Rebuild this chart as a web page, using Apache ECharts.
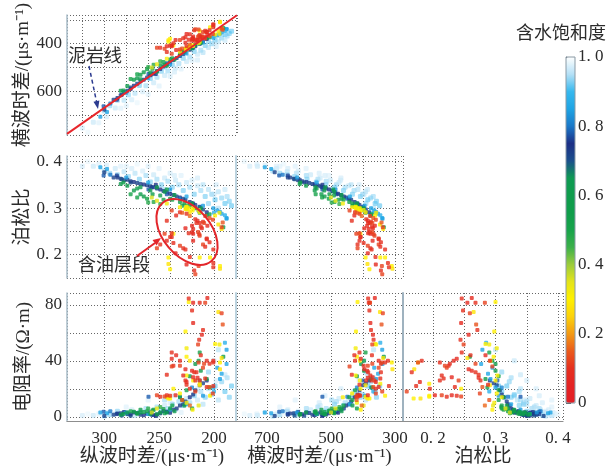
<!DOCTYPE html>
<html>
<head>
<meta charset="utf-8">
<script src="https://cdn.jsdelivr.net/npm/echarts@6/dist/echarts.min.js"></script>
<style>
html, body { margin: 0; padding: 0; background: #fff; }
#chart { width: 609px; height: 467px; }
</style>
</head>
<body>
<div id="chart"></div>
<script>
// Well-log samples: compressional slowness DTC (μs/m), shear slowness DTS (μs/m),
// Poisson's ratio, resistivity RT (Ω·m) and water saturation Sw.
// Grouped roughly by saturation: water-bearing (blue), transition (green), low Sw (yellow), oil (red).
const dtc = [
  291.5,285,282,279,273,267,261,255,249,243,237,231,226,222,217,213,206.6,300.6,297.5,303.6,294.5,288.5,259.7,256.6,253,243,231,220,200.6,194.5,193,188.5,188.5,213,284,276,300,190,197,288,276,270,264,258,252,246,240,234,228,219,210,280,260,240,225,210,200,
  282.5,279,276,273,270,267,267,261,258,255,249,249,240,231,229,225,227,222,217,214,213,206.6,204,191.5,212,245,236,220,252,243,285,264,256,246,238,270,260,
  223,196,226,225,225,222,225,194.5,194.5,213,241.5,241.5,240,231,225,219.5,213,203.6,199,195,193,256.7,252,243,219,237,214,
  223,219,213,208,206,220,193,219,192,210,211,213.5,214.5,238.5,238.5,237,231,226,228,226,220,216,210,204,206.6,200.6,213,208,219,206.6,252,249,243,240,245,217,204,201,222,225,218,214,200.6,235,212,209,215,225,238.5,231,234.5,243,217,200.6,229,222
];
const dts = [
  635,616,603,598,577,558,542,524,506,487,469,452,437,426,411,400,381,662,687,707,651,635,527,528,527,482,449,419,375,359,353,339,340,400,614,584,676,346,365,628,590,568,551,533,515,496,478,460,443,417,391,606,545,486,441,395,368,
  596,578,548,551,528,530,549,507,521,489,474,491,467,443,433,425,433,419,406,397,392,376,373,335,397,490,467,419,518,493,598,520,505,477,461,545,498,
  417,347,422,423,419,410,423,310,308,346,392,386,380,434,419,407,392,331,362,359,337,500,486,463,410,408,398,
  384,382,379,378,363,380,338,377,342,375,369,367,371,411,407,398,385,396,377,373,387,384,351,344,351,331,364,346,370,351,417,417,411,409,421,390,368,360,361,360,344,341,322,385,372,371,385,411,442,425,427,435,340,319,420,404
];
const pr = [
  0.366,0.363,0.36,0.361,0.356,0.352,0.349,0.345,0.34,0.334,0.328,0.323,0.318,0.313,0.307,0.302,0.291,0.37,0.384,0.388,0.372,0.37,0.34,0.345,0.35,0.33,0.32,0.31,0.30,0.292,0.288,0.277,0.279,0.303,0.362,0.355,0.377,0.285,0.295,0.366,0.358,0.354,0.351,0.347,0.342,0.337,0.331,0.325,0.32,0.31,0.297,0.366,0.355,0.34,0.325,0.305,0.29,
  0.355,0.348,0.33,0.338,0.323,0.33,0.345,0.32,0.338,0.313,0.309,0.327,0.32,0.313,0.305,0.305,0.31,0.305,0.30,0.295,0.29,0.284,0.287,0.259,0.30,0.335,0.328,0.31,0.345,0.34,0.352,0.325,0.33,0.318,0.318,0.342,0.312,
  0.30,0.265,0.298,0.302,0.297,0.292,0.303,0.176,0.17,0.194,0.194,0.18,0.169,0.302,0.298,0.295,0.291,0.194,0.284,0.29,0.255,0.323,0.316,0.31,0.30,0.245,0.296,
  0.246,0.255,0.268,0.283,0.262,0.248,0.259,0.245,0.269,0.271,0.257,0.244,0.249,0.246,0.238,0.225,0.219,0.257,0.214,0.211,0.262,0.268,0.222,0.227,0.233,0.211,0.241,0.217,0.23,0.235,0.214,0.222,0.23,0.238,0.245,0.276,0.279,0.275,0.195,0.179,0.166,0.176,0.182,0.203,0.26,0.268,0.273,0.288,0.295,0.291,0.284,0.273,0.158,0.173,0.29,0.283
];
const rt = [
  1.4,2.6,3.5,2,3,1.5,2.2,1.2,2.5,3.7,5,8,11,14,19,22.5,26,3.7,2.6,3,4,2,14.3,1.4,0.6,3.7,14.3,21,21,27,30.7,37.7,48,26,1,0.8,0.5,53,35,2.4,1.8,2.8,1.1,3.2,1.7,4.2,2.9,6,9,16,24,3,2,5,9,15,18,
  2,3,4,3.7,2.6,5,3,4,2,5,7,3,6,14,12,19,8,29,37.7,40,46,27,21,43,33,2.5,4,6,1.8,3,1.5,3.5,4.5,5.5,8,2.2,6,
  82,75,61,49,43,40,29.5,38.8,34,23.7,14.3,13,13,16.6,10,5,22.5,15,52,51.7,42,3,6,14,26,20,8,
  84.5,81.6,81.6,81.6,85,76,74,67,66,62,58.7,55,51.7,46,41.5,36.5,36.5,34,29.5,26,33,31.8,35,38,40,38.8,26,27.4,28.3,21.3,15.4,14.3,15.4,15,14.5,26,21.3,16.6,20,24.8,31.8,38.8,40,15.4,44,38,28,23,36,40,44,30,18,22,12,8
];
const sw = [
  0.72,0.72,0.73,0.72,0.74,0.72,0.73,0.72,0.74,0.73,0.72,0.73,0.72,0.74,0.73,0.72,0.74,0.78,0.85,0.85,0.8,0.76,0.78,0.76,0.74,0.78,0.8,0.82,0.85,0.85,0.86,0.86,0.85,0.78,0.7,0.71,0.72,0.88,0.86,0.73,0.73,0.72,0.74,0.72,0.73,0.72,0.74,0.73,0.72,0.73,0.72,0.84,0.86,0.84,0.86,0.84,0.88,
  0.55,0.6,0.5,0.55,0.5,0.58,0.62,0.52,0.6,0.48,0.46,0.56,0.55,0.55,0.5,0.52,0.58,0.55,0.6,0.55,0.5,0.55,0.6,0.55,0.58,0.6,0.62,0.56,0.62,0.6,0.6,0.55,0.58,0.52,0.5,0.62,0.48,
  0.3,0.28,0.3,0.32,0.3,0.28,0.3,0.3,0.28,0.3,0.3,0.28,0.3,0.3,0.32,0.3,0.28,0.3,0.3,0.32,0.28,0.36,0.34,0.32,0.3,0.3,0.34,
  0.1,0.08,0.1,0.12,0.08,0.1,0.12,0.08,0.14,0.1,0.08,0.1,0.12,0.1,0.08,0.1,0.12,0.08,0.1,0.1,0.08,0.1,0.12,0.1,0.08,0.1,0.12,0.1,0.08,0.1,0.12,0.1,0.08,0.1,0.12,0.1,0.14,0.12,0.1,0.08,0.1,0.12,0.1,0.08,0.1,0.12,0.08,0.1,0.12,0.1,0.08,0.1,0.12,0.1,0.14,0.16
];

// Near-fully water-saturated background samples (drawn faint, underneath).
const hazeDtc = [310,305,300,298,295,290,288,285,282,278,275,272,268,265,262,258,255,252,248,245,242,238,235,232,228,225,222,218,215,212,208,205,202,199,196,193,190,188,186,184,205,200,196,230,250,270,220,240,210,260,320,315,280,236,215,198,190,245];
const hazeDts = [730,732,682,706,660,670,637,671,637,614,635,608,575,602,577,546,564,541,516,534,515,489,502,483,461,475,456,433,445,428,408,416,401,385,392,376,362,368,358,348,391,397,367,506,578,648,470,537,437,612,754,771,660,519,469,412,386,498];
const hazePr = [0.39,0.395,0.38,0.392,0.375,0.385,0.372,0.39,0.378,0.368,0.385,0.375,0.362,0.38,0.37,0.356,0.372,0.362,0.35,0.365,0.358,0.345,0.36,0.35,0.338,0.355,0.345,0.33,0.348,0.338,0.325,0.34,0.33,0.318,0.335,0.322,0.31,0.325,0.315,0.305,0.31,0.33,0.30,0.37,0.385,0.395,0.36,0.375,0.35,0.39,0.39,0.40,0.39,0.37,0.365,0.35,0.34,0.34];
const hazeRt = [1,2,0.5,3,1.5,2,4,1,3,2,5,1,3,4,6,2,5,7,4,8,6,9,5,11,8,13,10,15,12,18,14,20,16,22,12,25,18,28,14,22,32,40,48,3,1,2,6,10,9,12,1,2,7,15,20,26,30,12];
const hazeSw = [0.95,0.97,0.93,0.96,0.92,0.95,0.92,0.97,0.94,0.92,0.96,0.94,0.91,0.96,0.93,0.91,0.95,0.93,0.91,0.95,0.93,0.91,0.95,0.93,0.91,0.95,0.93,0.91,0.95,0.93,0.91,0.94,0.92,0.9,0.94,0.92,0.9,0.93,0.91,0.9,0.92,0.95,0.94,0.97,0.97,0.98,0.96,0.96,0.94,0.97,0.96,0.98,0.97,0.96,0.96,0.96,0.95,0.93];

// Mudstone trend line in the DTC–DTS crossplot (two end points).
const mudDtc = [334, 179];
const mudDts = [778, 281];

// Colour ramp for water saturation, 0 → 1 in steps of 0.05.
const swColors = ['#e31e24','#e42324','#e5301f','#ea5a1c','#f39a14','#fcd20c','#fff000','#e4e41a','#9ccc3c','#3cb04a','#17a34a','#0f9d4a','#0f9c4c','#0e9a52','#1b4f8c','#1c2f86','#1a78c8','#1ea4e4','#36b8ee','#b4e0f6','#ffffff'];

const dims = ['dtc', 'dts', 'pr', 'rt', 'sw'];
const coreRows = dtc.map((v, i) => [v, dts[i], pr[i], rt[i], sw[i]]);
const hazeRows = hazeDtc.map((v, i) => [v, hazeDts[i], hazePr[i], hazeRt[i], hazeSw[i]]);

const NUM_FONT = '"Liberation Serif","DejaVu Serif",serif';
const TXT_FONT = '"Liberation Serif","Noto Sans CJK SC",serif';
const INK = '#2b2b2b';
const GRIDLINE = { show: true, lineStyle: { color: '#666', type: [1, 2], width: 1 } };
const near = (a, b) => Math.abs(a - b) < 1e-6;
const pick = (list, fmt) => v => (list.some(t => near(t, v)) ? fmt(v) : '');
const dec = v => v.toFixed(1).replace('.', '. ');

function axis(gridIndex, min, max, step, extra) {
  return Object.assign({
    type: 'value', gridIndex, min, max, minInterval: step, maxInterval: step,
    axisLine: { show: false, onZero: false },
    axisTick: { show: false },
    axisLabel: { show: false },
    splitLine: GRIDLINE
  }, extra || {});
}
const leftLine = { show: true, onZero: false, lineStyle: { color: '#a9bcc9', width: 1.5 } };
const baseLine = { show: true, onZero: false, lineStyle: { color: '#8d8d8d', width: 1.2 } };
const lbl = (formatter, margin) => ({ show: true, formatter, margin, fontFamily: NUM_FONT, fontSize: 17, color: INK });
const nameStyle = { fontFamily: TXT_FONT, fontSize: 19, color: INK };

const grids = [
  { left: 67,  top: 15,  width: 170, height: 120 },
  { left: 67,  top: 156, width: 170, height: 122 },
  { left: 236, top: 156, width: 167, height: 122 },
  { left: 67,  top: 293, width: 170, height: 128 },
  { left: 236, top: 293, width: 167, height: 128 },
  { left: 403, top: 293, width: 160, height: 128 },
  { left: 566, top: 57,  width: 9,   height: 346 }
].map(g => Object.assign({ outerBoundsMode: 'none', containLabel: false }, g));

const xAxis = [
  axis(0, 179, 334, 20, { inverse: true }),
  axis(1, 179, 334, 20, { inverse: true }),
  axis(2, 275, 797, 100, { inverse: true }),
  axis(3, 179, 334, 50, {
    inverse: true, axisLine: baseLine,
    axisLabel: lbl(pick([200, 250, 300], String), 9),
    name: '纵波时差/(μs·m⁻¹)', nameLocation: 'middle', nameGap: 26, nameTextStyle: nameStyle
  }),
  axis(4, 275, 797, 100, {
    inverse: true, axisLine: baseLine,
    axisLabel: lbl(pick([300, 500, 700], String), 9),
    name: '横波时差/(μs·m⁻¹)', nameLocation: 'middle', nameGap: 26, nameTextStyle: nameStyle
  }),
  axis(5, 0.152, 0.408, 0.05, {
    axisLine: baseLine,
    axisLabel: lbl(pick([0.2, 0.3, 0.4], dec), 9),
    name: '泊松比', nameLocation: 'middle', nameGap: 26, nameTextStyle: nameStyle
  }),
  { type: 'value', gridIndex: 6, show: false, min: 0, max: 1 }
];

const yAxis = [
  axis(0, 280, 783, 100, {
    inverse: true, axisLine: leftLine,
    axisLabel: lbl(pick([400, 600], String), 5),
    name: '横波时差/(μs·m⁻¹)', nameLocation: 'middle', nameRotate: 90, nameGap: 33, nameTextStyle: nameStyle
  }),
  axis(1, 0.15, 0.412, 0.05, {
    axisLine: leftLine,
    axisLabel: lbl(pick([0.2, 0.3, 0.4], dec), 5),
    name: '泊松比', nameLocation: 'middle', nameRotate: 90, nameGap: 33, nameTextStyle: nameStyle
  }),
  axis(2, 0.15, 0.412, 0.05, { axisLine: { show: true, onZero: false, lineStyle: { color: '#bcd3df', width: 2 } } }),
  axis(3, -3, 88.5, 20, {
    axisLine: leftLine,
    axisLabel: lbl(pick([0, 40, 80], String), 5),
    name: '电阻率/(Ω·m)', nameLocation: 'middle', nameRotate: 90, nameGap: 33, nameTextStyle: nameStyle
  }),
  axis(4, -3, 88.5, 20, { axisLine: { show: true, onZero: false, lineStyle: { color: '#bcd3df', width: 2 } } }),
  axis(5, -3, 88.5, 20, { axisLine: { show: true, onZero: false, lineStyle: { color: '#9fb2bf', width: 2 } } }),
  {
    type: 'value', gridIndex: 6, min: 0, max: 1, interval: 0.2, position: 'right',
    axisLine: { show: true, lineStyle: { color: '#8a9aa5', width: 1 } },
    axisTick: { show: true, length: 5, lineStyle: { color: '#444' } },
    axisLabel: { show: true, margin: 3, fontFamily: NUM_FONT, fontSize: 17, color: INK,
      formatter: v => (near(v, 0) ? '0' : dec(v)) },
    splitLine: { show: false }
  }
];

// Six crossplots: [x field, y field] per panel.
const panels = [['dtc', 'dts'], ['dtc', 'pr'], ['dts', 'pr'], ['dtc', 'rt'], ['dts', 'rt'], ['pr', 'rt']];
const series = [];
panels.forEach((p, i) => series.push({
  type: 'scatter', datasetIndex: 1, xAxisIndex: i, yAxisIndex: i,
  encode: { x: p[0], y: p[1] }, symbol: 'roundRect', symbolSize: 5,
  itemStyle: { opacity: 0.5 }, silent: true
}));
panels.forEach((p, i) => series.push({
  type: 'scatter', datasetIndex: 0, xAxisIndex: i, yAxisIndex: i,
  encode: { x: p[0], y: p[1] }, symbol: 'roundRect', symbolSize: 4, silent: true
}));
series.push({
  type: 'line', xAxisIndex: 0, yAxisIndex: 0, symbol: 'none', silent: true,
  data: mudDtc.map((v, i) => [v, mudDts[i]]),
  lineStyle: { color: '#e8262b', width: 2 }
});

const chart = echarts.init(document.getElementById('chart'), null, { renderer: 'canvas' });
chart.setOption({
  animation: false,
  backgroundColor: '#ffffff',
  dataset: [
    { dimensions: dims, source: coreRows },
    { dimensions: dims, source: hazeRows }
  ],
  grid: grids,
  xAxis,
  yAxis,
  visualMap: {
    type: 'continuous', min: 0, max: 1, dimension: 4,
    seriesIndex: [0, 1, 2, 3, 4, 5, 6, 7, 8, 9, 10, 11],
    left: 566, top: 57, itemWidth: 9, itemHeight: 346, padding: 0,
    calculable: false, text: null, showLabel: false, hoverLink: false,
    inRange: { color: swColors }
  },
  series,
  graphic: [
    { type: 'rect', z: 100, shape: { x: 566, y: 57, width: 9, height: 346 },
      style: { fill: 'none', stroke: '#8a9aa5', lineWidth: 1 } },
    { type: 'text', z: 100, x: 561, y: 32,
      style: { text: '含水饱和度', font: '18px "Noto Sans CJK SC"', fill: INK, textAlign: 'center', textVerticalAlign: 'middle' } },
    { type: 'text', z: 100, x: 68, y: 55,
      style: { text: '泥岩线', font: '18px "Noto Sans CJK SC"', fill: INK, textAlign: 'left', textVerticalAlign: 'middle' } },
    { type: 'line', z: 100, shape: { x1: 89, y1: 66, x2: 96.6, y2: 102 },
      style: { stroke: '#2b3a8f', lineWidth: 1.5, lineDash: [4, 3] } },
    { type: 'polygon', z: 100, shape: { points: [[98, 109], [99.4, 100.6], [93.5, 101.8]] },
      style: { fill: '#2b3a8f' } },
    { type: 'text', z: 100, x: 78, y: 264,
      style: { text: '含油层段', font: '18px "Noto Sans CJK SC"', fill: INK, textAlign: 'left', textVerticalAlign: 'middle' } },
    { type: 'ellipse', z: 100, x: 187, y: 232, rotation: -0.87,
      shape: { cx: 0, cy: 0, rx: 38, ry: 24 },
      style: { fill: 'none', stroke: '#e3262b', lineWidth: 2 } },
    { type: 'line', z: 100, shape: { x1: 137, y1: 256, x2: 155, y2: 243 },
      style: { stroke: '#e3262b', lineWidth: 2 } },
    { type: 'polygon', z: 100, shape: { points: [[161, 238], [156.6, 245.5], [152.5, 239.9]] },
      style: { fill: '#e3262b' } }
  ]
});
</script>
</body>
</html>
